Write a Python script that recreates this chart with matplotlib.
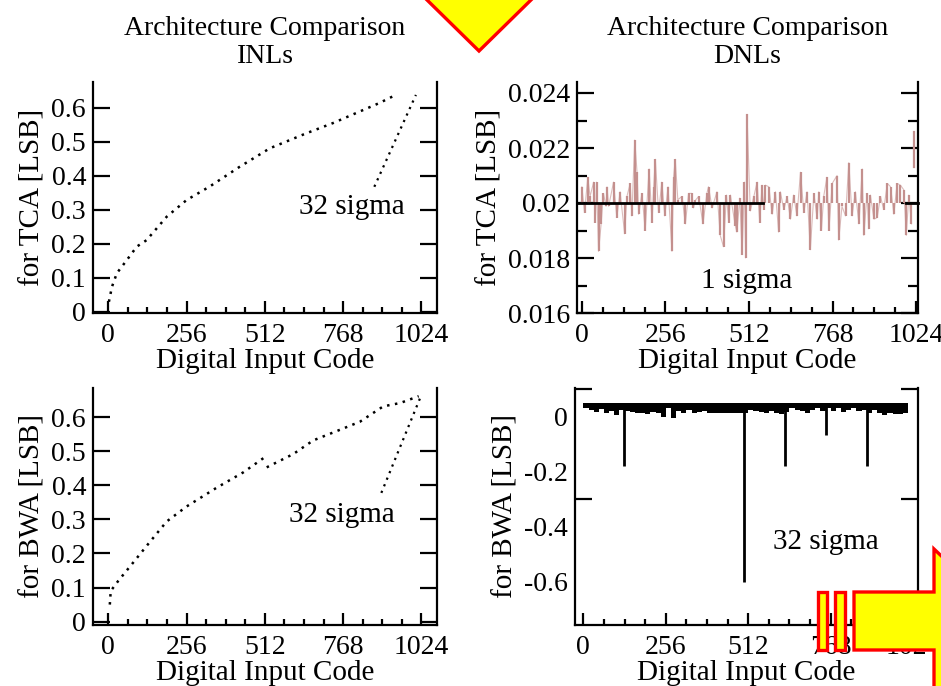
import numpy as np
import matplotlib
matplotlib.use("Agg")
import matplotlib.pyplot as plt
from matplotlib.patches import Polygon
from matplotlib.ticker import MultipleLocator, FixedLocator

plt.rcParams['font.family'] = ['Liberation Serif', 'DejaVu Serif']

# ---- data ----
codes_ticks = [0, 256, 512, 768, 1024]

# INL, TCA (top left)
inl_tca_code = [2, 12, 28, 61, 93, 125, 191, 256, 332, 430, 528, 647, 734, 886, 940]
inl_tca_val = [0.03, 0.074, 0.114, 0.153, 0.192, 0.211, 0.28, 0.329, 0.369, 0.427,
               0.481, 0.525, 0.555, 0.614, 0.638]
tca_note_code = [870, 1006]
tca_note_val = [0.368, 0.638]

# INL, BWA (bottom left) - small jump near code 512
inl_bwa_code = [5, 8, 33, 82, 136, 191, 256, 354, 441, 512]
inl_bwa_val = [0.05, 0.09, 0.12, 0.174, 0.234, 0.294, 0.338, 0.393, 0.438, 0.483]
inl_bwa_code2 = [518, 605, 670, 768, 823, 899, 955, 1015]
inl_bwa_val2 = [0.453, 0.492, 0.532, 0.567, 0.587, 0.632, 0.642, 0.662]
bwa_note_code = [893, 1020]
bwa_note_val = [0.378, 0.657]

# DNL, TCA (top right)
dnl_tca_code = [0, 8, 18, 25, 36, 41, 45, 51, 59, 66, 74, 77, 82, 97, 107, 117, 131, 138,
                148, 153, 162, 169, 174, 184, 194, 206, 215, 220, 225, 235, 245, 254, 264,
                276, 281, 286, 294, 307, 317, 327, 337, 342, 348, 358, 371, 383, 388, 399,
                414, 424, 434, 443, 450, 455, 470, 475, 484, 491, 498, 502, 506, 516, 527,
                537, 545, 552, 557, 562, 573, 583, 593, 603, 608, 619, 629, 639, 649, 659,
                670, 680, 690, 700, 711, 721, 726, 734, 741, 751, 757, 767, 782, 787, 797,
                808, 818, 828, 838, 849, 859, 864, 874, 879, 884, 895, 905, 915, 925, 936,
                946, 956, 966, 976, 987, 994, 1002, 1010]
dnl_tca_val = [0.02059, 0.01965, 0.02094, 0.02024, 0.02076, 0.01929, 0.02076, 0.01824,
               0.01924, 0.02035, 0.01988, 0.02059, 0.01988, 0.02076, 0.01947, 0.02041,
               0.01888, 0.02024, 0.02071, 0.01953, 0.02229, 0.02112, 0.01959, 0.02035,
               0.01900, 0.02124, 0.01929, 0.02059, 0.02159, 0.01965, 0.02076, 0.01953,
               0.02059, 0.01824, 0.02094, 0.02159, 0.02012, 0.02024, 0.01924, 0.02035,
               0.02035, 0.01982, 0.02010, 0.02024, 0.01924, 0.02035, 0.02059, 0.01982,
               0.02041, 0.01882, 0.01841, 0.02029, 0.01929, 0.02029, 0.01918, 0.01894,
               0.02018, 0.01812, 0.02076, 0.01800, 0.02323, 0.01971, 0.02024, 0.02076,
               0.01929, 0.02065, 0.01976, 0.02065, 0.02059, 0.01959, 0.02041, 0.01894,
               0.02041, 0.01976, 0.02024, 0.01941, 0.02029, 0.01953, 0.02112, 0.01965,
               0.02041, 0.01830, 0.02035, 0.01941, 0.02041, 0.01900, 0.02024, 0.02094,
               0.01900, 0.02071, 0.02100, 0.01865, 0.01988, 0.01953, 0.02147, 0.01953,
               0.02041, 0.01924, 0.02124, 0.01882, 0.02035, 0.01906, 0.02029, 0.01941,
               0.01947, 0.02024, 0.01976, 0.02071, 0.02059, 0.01959, 0.02071, 0.02065,
               0.02047, 0.01882, 0.02029, 0.01924]
dnl_tca_last_code = [1017, 1017]
dnl_tca_last_val = [0.0213, 0.0226]
sigma1_ref = 0.02
sigma1_spans = [(-15, 556), (992, 1030)]

# DNL, BWA (bottom right)
bwa_band_code = np.arange(0, 1000, 16)
bwa_band_top = 0.048
bwa_band_low = [0.03, 0.024, 0.018, 0.028, 0.012, 0.022, 0.006, 0.025,
                0.02, 0.015, 0.012, 0.014, 0.008, 0.016, 0.012, 0.0,
                0.03, -0.006, 0.02, 0.014, 0.025, 0.012, 0.016, 0.02,
                0.012, 0.014, 0.012, 0.013, 0.012, 0.012, 0.014, 0.012,
                0.024, 0.02, 0.018, 0.012, 0.02, 0.014, 0.008, 0.018,
                0.03, 0.025, 0.02, 0.012, 0.025, 0.03, 0.02, 0.03,
                0.02, 0.03, 0.018, 0.025, 0.03, 0.02, 0.024, 0.014,
                0.025, 0.012, 0.006, 0.014, 0.01, 0.008, 0.012]
bwa_drop_code = [125, 500, 627, 754, 882]
bwa_drop_val = [-0.18, -0.6, -0.18, -0.067, -0.18]

W, H = 941, 686
fig = plt.figure(figsize=(W / 100, H / 100), dpi=100)

def box(l, t, r, b):
    return [l / W, 1 - b / H, (r - l) / W, (b - t) / H]

ax1 = fig.add_axes(box(93, 82, 437, 313))
ax2 = fig.add_axes(box(577, 82, 918, 313))
ax3 = fig.add_axes(box(93, 388, 437, 625))
ax4 = fig.add_axes(box(575, 388, 918, 625))

dot = (0, (1, 2.2))

ax1.plot(inl_tca_code, inl_tca_val, color='black', lw=1.8, ls=dot)
ax1.plot(tca_note_code, tca_note_val, color='black', lw=1.6, ls=dot)
ax1.text(795, 0.309, '32 sigma', fontsize=21, ha='center', va='center')
ax1.set_xlim(-50, 1075)
ax1.set_ylim(-0.003, 0.676)
ax1.yaxis.set_major_locator(MultipleLocator(0.1))

ax3.plot(inl_bwa_code, inl_bwa_val, color='black', lw=1.8, ls=dot)
ax3.plot(inl_bwa_code2, inl_bwa_val2, color='black', lw=1.8, ls=dot)
ax3.plot(bwa_note_code, bwa_note_val, color='black', lw=1.6, ls=dot)
ax3.text(765, 0.313, '32 sigma', fontsize=21, ha='center', va='center')
ax3.set_xlim(-50, 1075)
ax3.set_ylim(-0.01, 0.686)
ax3.yaxis.set_major_locator(MultipleLocator(0.1))

dnl_color = '#c4908e'
ax2.vlines(dnl_tca_code, sigma1_ref, dnl_tca_val, color=dnl_color, lw=1.6)
ax2.plot(dnl_tca_code, dnl_tca_val, color=dnl_color, lw=0.8, alpha=0.6)
ax2.plot(dnl_tca_last_code, dnl_tca_last_val, color=dnl_color, lw=1.6)
for x0, x1 in sigma1_spans:
    ax2.plot([x0, x1], [sigma1_ref, sigma1_ref], color='black', lw=2, zorder=3,
             clip_on=False)
ax2.text(506, 0.01716, '1 sigma', fontsize=21, ha='center', va='center')
ax2.set_xlim(-15, 1030)
ax2.set_ylim(0.016, 0.0244)
ax2.yaxis.set_major_locator(MultipleLocator(0.002))
ax2.yaxis.set_minor_locator(MultipleLocator(0.001))
ax2.yaxis.set_major_formatter(plt.FuncFormatter(lambda v, p: ('%.3f' % v).rstrip('0')))

ax4.bar(bwa_band_code, bwa_band_top - np.array(bwa_band_low), bottom=bwa_band_low,
        width=16, align='edge', color='black', linewidth=0)
ax4.vlines(bwa_drop_code, bwa_drop_val, bwa_band_top, color='black', lw=2)
ax4.text(753, -0.4545, '32 sigma', fontsize=21, ha='center', va='center')
ax4.set_xlim(-26, 1039)
ax4.set_ylim(-0.757, 0.104)
ax4.yaxis.set_major_locator(FixedLocator([0, -0.2, -0.4, -0.6]))
ax4.yaxis.set_minor_locator(FixedLocator([0.1, 0, -0.3, -0.6]))
ax4.yaxis.set_major_formatter(plt.FuncFormatter(lambda v, p: '0' if v == 0 else '%.1f' % v))

for ax in (ax1, ax3):
    ax.yaxis.set_major_formatter(plt.FuncFormatter(lambda v, p: '0' if abs(v) < 1e-9 else '%.1f' % v))

for ax, ttl, ylab in ((ax1, 'INLs', 'for TCA [LSB]'), (ax2, 'DNLs', 'for TCA [LSB]'),
                      (ax3, None, 'for BWA [LSB]'), (ax4, None, 'for BWA [LSB]')):
    ax.spines['top'].set_visible(False)
    for s in ('left', 'right', 'bottom'):
        ax.spines[s].set_linewidth(1.6)
    ax.set_xticks(codes_ticks)
    ax.xaxis.set_minor_locator(MultipleLocator(64))
    ax.tick_params(axis='x', which='major', direction='in', length=9, width=1.6,
                   labelsize=20, pad=7, top=False)
    ax.tick_params(axis='x', which='minor', direction='in', length=4, width=1.6, top=False)
    ax.tick_params(axis='y', which='major', direction='in', length=12, width=1.6,
                   labelsize=20, pad=5, right=True)
    ax.tick_params(axis='y', which='minor', direction='in', length=12, width=1.6, right=True)
    ax.set_xlabel('Digital Input Code', fontsize=21, labelpad=0)
    ax.set_ylabel(ylab, fontsize=21, labelpad=4)
    if ttl:
        ax.set_title('Architecture Comparison\n' + ttl, fontsize=20, linespacing=1.15, pad=14)

ax4.tick_params(axis='y', which='major', length=0)
ax2.tick_params(axis='y', which='minor', length=7)

# yellow overlay markers
def poly(pts, lw=2.4):
    p = Polygon([(x / W, 1 - y / H) for x, y in pts], closed=True, transform=fig.transFigure,
                facecolor='#ffff00', edgecolor='#ff0000', lw=lw, zorder=10)
    fig.add_artist(p)

poly([(424, -3), (534, -3), (479, 51)])
poly([(818, 592), (827, 592), (827, 650), (818, 650)])
poly([(835, 592), (845, 592), (845, 650), (835, 650)])
poly([(854, 592), (934, 592), (934, 549), (1010, 621), (934, 700), (934, 650), (854, 650)])

fig.savefig('out.png', dpi=100)
